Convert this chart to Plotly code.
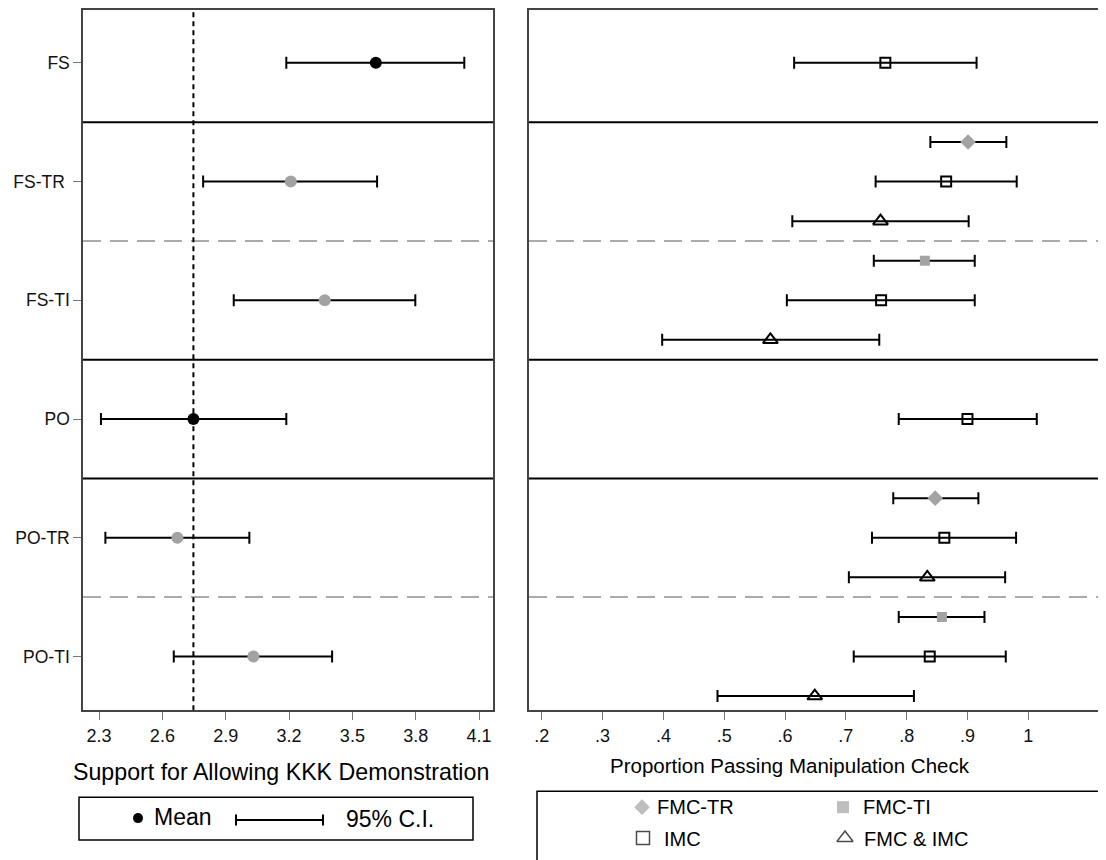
import plotly.graph_objects as go

# ---------------- data ----------------
groups = ["FS", "FS-TR", "FS-TI", "PO", "PO-TR", "PO-TI"]
group_labels = ["FS", "FS-TR\u00a0", "FS-TI", "PO", "PO-TR", "PO-TI"]

# left panel: support for allowing KKK demonstration
left_mean = [3.611, 3.208, 3.369, 2.747, 2.671, 3.031]
left_lo = [3.187, 2.793, 2.938, 2.309, 2.330, 2.654]
left_hi = [4.030, 3.617, 3.798, 3.187, 3.012, 3.404]
left_is_base = [True, False, False, True, False, False]

left_ticks = [2.3, 2.6, 2.9, 3.2, 3.5, 3.8, 4.1]
left_ticktext = ["2.3", "2.6", "2.9", "3.2", "3.5", "3.8", "4.1"]

# right panel: proportion passing manipulation check
fmc_tr_groups = ["FS-TR", "PO-TR"]
fmc_tr_est = [0.901, 0.847]
fmc_tr_lo = [0.839, 0.778]
fmc_tr_hi = [0.964, 0.918]

fmc_ti_groups = ["FS-TI", "PO-TI"]
fmc_ti_est = [0.830, 0.858]
fmc_ti_lo = [0.746, 0.787]
fmc_ti_hi = [0.912, 0.928]

imc_groups = ["FS", "FS-TR", "FS-TI", "PO", "PO-TR", "PO-TI"]
imc_est = [0.765, 0.865, 0.758, 0.900, 0.862, 0.838]
imc_lo = [0.615, 0.749, 0.603, 0.787, 0.743, 0.713]
imc_hi = [0.915, 0.981, 0.912, 1.014, 0.980, 0.963]

both_groups = ["FS-TR", "FS-TI", "PO-TR", "PO-TI"]
both_est = [0.757, 0.576, 0.834, 0.649]
both_lo = [0.612, 0.398, 0.705, 0.489]
both_hi = [0.902, 0.755, 0.962, 0.812]

right_ticks = [0.2, 0.3, 0.4, 0.5, 0.6, 0.7, 0.8, 0.9, 1.0]
right_ticktext = [".2", ".3", ".4", ".5", ".6", ".7", ".8", ".9", "1"]

# ---------------- helpers ----------------
W, H = 1106, 860
OFF = 8  # page body margin: figure origin sits at (8, 8) in the window
FONT = "Liberation Sans, Arial, Helvetica, sans-serif"
GRAY = "#a3a3a3"
row_of = {g: i + 1 for i, g in enumerate(groups)}
SUB = 1 / 3.0


def ypos(glist, off):
    return [row_of[g] + off for g in glist]


def err(est, lo, hi):
    return dict(type="data", symmetric=False,
                array=[h - e for e, h in zip(est, hi)],
                arrayminus=[e - l for e, l in zip(est, lo)],
                color="black", thickness=2, width=6)


fig = go.Figure()

# left panel
fig.add_trace(go.Scatter(
    x=left_mean, y=[row_of[g] for g in groups], mode="markers",
    marker=dict(symbol="circle", size=12,
                color=["black" if b else GRAY for b in left_is_base]),
    error_x=err(left_mean, left_lo, left_hi),
    xaxis="x", yaxis="y", showlegend=False))

# right panel
fig.add_trace(go.Scatter(
    x=fmc_tr_est, y=ypos(fmc_tr_groups, -SUB), mode="markers",
    marker=dict(symbol="diamond", size=12, color=GRAY),
    error_x=err(fmc_tr_est, fmc_tr_lo, fmc_tr_hi),
    xaxis="x2", yaxis="y2", showlegend=False))
fig.add_trace(go.Scatter(
    x=fmc_ti_est, y=ypos(fmc_ti_groups, -SUB), mode="markers",
    marker=dict(symbol="square", size=10, color=GRAY),
    error_x=err(fmc_ti_est, fmc_ti_lo, fmc_ti_hi),
    xaxis="x2", yaxis="y2", showlegend=False))
fig.add_trace(go.Scatter(
    x=imc_est, y=ypos(imc_groups, 0), mode="markers",
    marker=dict(symbol="square-open", size=10, color="black",
                line=dict(width=2, color="black")),
    error_x=err(imc_est, imc_lo, imc_hi),
    xaxis="x2", yaxis="y2", showlegend=False))
fig.add_trace(go.Scatter(
    x=both_est, y=ypos(both_groups, SUB), mode="markers",
    marker=dict(symbol="triangle-up-open", size=13, color="black",
                line=dict(width=2, color="black")),
    error_x=err(both_est, both_lo, both_hi),
    xaxis="x2", yaxis="y2", showlegend=False))

# legend markers (pixel overlay axis, window pixel coordinates)
fig.add_trace(go.Scatter(
    x=[138], y=[818], mode="markers",
    marker=dict(symbol="circle", size=10, color="black"),
    xaxis="x3", yaxis="y3", showlegend=False, hoverinfo="skip"))
fig.add_trace(go.Scatter(
    x=[642, 843, 643, 845], y=[807, 807, 838, 838], mode="markers",
    marker=dict(symbol=["diamond", "square", "square-open", "triangle-up-open"],
                size=[12, 12, 13, 14],
                color=[GRAY, GRAY, "black", "black"],
                line=dict(width=[0, 0, 1.5, 1.5], color="black")),
    xaxis="x3", yaxis="y3", showlegend=False, hoverinfo="skip"))


def px_x(p):
    return min(1.0, max(0.0, (p - OFF) / W))


def px_y(p):
    return min(1.0, max(0.0, 1 - (p - OFF) / H))


yr = [6.454, 0.555]
axis_line = dict(showline=True, linecolor="#444444", linewidth=1.5)
tick_font = dict(size=18, family=FONT, color="#111111")

fig.update_layout(
    width=W, height=H, margin=dict(l=0, r=0, t=0, b=0),
    paper_bgcolor="white", plot_bgcolor="rgba(0,0,0,0)",
    font=dict(family=FONT, color="black"),
    xaxis=dict(domain=[px_x(83), px_x(493)], range=[2.224, 4.166],
               tickvals=left_ticks, ticktext=left_ticktext,
               ticks="outside", ticklen=8, tickcolor="#777777", tickwidth=1,
               tickfont=tick_font,
               showgrid=False, zeroline=False, mirror=True, **axis_line),
    yaxis=dict(domain=[px_y(710), px_y(8)], range=yr,
               tickvals=[1, 2, 3, 4, 5, 6], ticktext=group_labels,
               ticks="outside", ticklen=8, tickcolor="#777777", tickwidth=1,
               tickfont=dict(size=17.5, family=FONT, color="#111111"),
               showgrid=False, zeroline=False, mirror=True, **axis_line),
    xaxis2=dict(domain=[px_x(529), 1.0], range=[0.179, 1.141],
                tickvals=right_ticks, ticktext=right_ticktext,
                ticks="outside", ticklen=8, tickcolor="#777777", tickwidth=1,
                tickfont=tick_font,
                showgrid=False, zeroline=False, mirror=True, anchor="y2",
                **axis_line),
    yaxis2=dict(domain=[px_y(710), px_y(8)], range=yr, anchor="x2",
                showticklabels=False, ticks="", showgrid=False,
                zeroline=False, **axis_line),
    xaxis3=dict(domain=[0, 1], range=[OFF, W + OFF], visible=False, anchor="y3"),
    yaxis3=dict(domain=[0, 1], range=[H + OFF, OFF], visible=False, anchor="x3"),
)

shapes = []
# group separators
for xr in ["x", "x2"]:
    dom = "x domain" if xr == "x" else "x2 domain"
    yref = "y" if xr == "x" else "y2"
    for yv in [1.5, 3.5, 4.5]:
        shapes.append(dict(type="line", xref=dom, yref=yref, x0=0, x1=1,
                           y0=yv, y1=yv, line=dict(color="black", width=2),
                           layer="below"))
    for yv in [2.5, 5.5]:
        shapes.append(dict(type="line", xref=dom, yref=yref, x0=0, x1=1,
                           y0=yv, y1=yv,
                           line=dict(color="#aaaaaa", width=2, dash="18px,9px"),
                           layer="below"))
# reference line at PO mean
po_ref = left_mean[groups.index("PO")]
shapes.append(dict(type="line", xref="x", yref="y domain", x0=po_ref, x1=po_ref,
                   y0=0, y1=1, line=dict(color="black", width=2, dash="5px,4px"),
                   layer="below"))
# legend boxes
shapes.append(dict(type="rect", xref="x3", yref="y3", x0=79, x1=473, y0=797,
                   y1=840, line=dict(color="black", width=1.5)))
shapes.append(dict(type="rect", xref="x3", yref="y3", x0=537, x1=1130, y0=791,
                   y1=890, line=dict(color="black", width=1.5)))
# C.I. key symbol
shapes.append(dict(type="line", xref="x3", yref="y3", x0=236, x1=323, y0=820,
                   y1=820, line=dict(color="black", width=2)))
for xc in [236, 323]:
    shapes.append(dict(type="line", xref="x3", yref="y3", x0=xc, x1=xc,
                       y0=814.5, y1=825.5, line=dict(color="black", width=2)))
fig.update_layout(shapes=shapes)

ann = []


def text(x, y, s, size, anchor="left"):
    ann.append(dict(x=x, y=y, xref="x3", yref="y3", text=s, showarrow=False,
                    xanchor=anchor, yanchor="middle",
                    font=dict(size=size, family=FONT, color="black")))


text(281, 772, "Support for Allowing KKK Demonstration", 23.2, "center")
text(790, 765, "Proportion Passing Manipulation Check", 20.5, "center")
text(152, 817, "Mean", 23)
text(344, 819, "95% C.I.", 23)
text(655, 807, "FMC-TR", 20)
text(861, 807, "FMC-TI", 20)
text(662, 839, "IMC", 20)
text(862, 839, "FMC &amp; IMC", 20)
fig.update_layout(annotations=ann)

fig.write_html("out.html")
